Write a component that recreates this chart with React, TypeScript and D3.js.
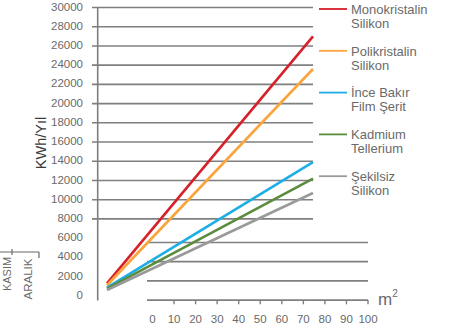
import React from "react";
import * as d3 from "d3";

const yTicks = [0, 2000, 4000, 6000, 8000, 10000, 12000, 14000, 16000, 18000, 20000, 22000, 24000, 26000, 28000, 30000];
const upperGrid = [8000, 10000, 12000, 14000, 16000, 18000, 20000, 22000, 24000, 26000, 28000, 30000];
const lowerGrid = [0, 2000, 4000, 6000];
const xTicks = [0, 10, 20, 30, 40, 50, 60, 70, 80, 90, 100];

const seriesNames = ["Monokristalin|Silikon", "Polikristalin|Silikon", "İnce Bakır|Film Şerit", "Kadmium|Tellerium", "Şekilsiz|Silikon"];
const seriesColors = ["#d6202a", "#f9a53b", "#1eaee6", "#5b8c3d", "#9a9a9a"];
const areaValues = [0, 75];
const monoValues = [1300, 27000];
const poliValues = [1100, 23600];
const inceValues = [850, 13900];
const kadmiumValues = [750, 12200];
const sekilsizValues = [600, 10700];
const seriesValues = [monoValues, poliValues, inceValues, kadmiumValues, sekilsizValues];

const FONT = "'Liberation Sans', Arial, sans-serif";

export default function App() {
  const y = d3.scaleLinear().domain([0, 30000]).range([295.8, 7.5]);
  const x = d3.scaleLinear().domain([0, 100]).range([152.5, 368]);
  const lineX = d3.scaleLinear().domain([0, 75]).range([107, 313]);
  const gridColor = "#7f7f7f";
  const textColor = "#6a6a6a";

  const line = d3
    .line<[number, number]>()
    .x((d) => lineX(d[0]))
    .y((d) => y(d[1]));

  return (
    <svg width={474} height={329} style={{ position: "absolute", left: 0, top: 0, background: "#fff" }} fontFamily={FONT}>
      {/* upper gridlines */}
      {upperGrid.map((v) => (
        <line key={"u" + v} x1={92} x2={313} y1={y(v)} y2={y(v)} stroke={gridColor} strokeWidth={1.6} />
      ))}
      {/* lower gridlines */}
      {lowerGrid.map((v) => (
        <line key={"l" + v} x1={147} x2={368} y1={y(v) + 4.3} y2={y(v) + 4.3} stroke={gridColor} strokeWidth={1.6} />
      ))}
      {/* x ticks */}
      {xTicks.filter((t) => t > 0).map((t) => (
        <line key={"xt" + t} x1={x(t)} x2={x(t)} y1={y(0) + 4.3} y2={y(0) + 8.5} stroke={gridColor} strokeWidth={1.4} />
      ))}
      {xTicks.map((t) => (
        <text key={"xl" + t} x={x(t)} y={320} textAnchor="middle" dominantBaseline="middle" fontSize={11.5} fill={textColor}>
          {t}
        </text>
      ))}
      {/* y axis */}
      <line x1={97.7} x2={97.7} y1={7} y2={300.5} stroke={gridColor} strokeWidth={1.6} />
      {yTicks.map((t) => (
        <text key={"yl" + t} x={83} y={y(t)} textAnchor="end" dominantBaseline="middle" fontSize={11.5} fill={textColor}>
          {t}
        </text>
      ))}
      <text transform={`translate(46,143) rotate(-90)`} textAnchor="middle" fontSize={14.5} fill="#3a3a3a">
        KWh/Yıl
      </text>
      {/* month bracket */}
      <line x1={0} x2={39} y1={252} y2={252} stroke={textColor} strokeWidth={1.2} />
      <line x1={12} x2={12} y1={249} y2={255} stroke={textColor} strokeWidth={1.2} />
      <line x1={39} x2={39} y1={252} y2={258} stroke={textColor} strokeWidth={1.2} />
      <text transform={`translate(10.5,274) rotate(-90)`} textAnchor="middle" fontSize={11} fill={textColor}>
        KASIM
      </text>
      <text transform={`translate(32,279) rotate(-90)`} textAnchor="middle" fontSize={11.5} fill={textColor}>
        ARALIK
      </text>
      {/* m2 */}
      <text x={378} y={305} fontSize={17} fill={textColor}>
        m
        <tspan dy={-8} fontSize={10}>
          2
        </tspan>
      </text>
      {/* data lines */}
      {seriesValues.map((vals, i) => (
        <path
          key={"s" + i}
          d={line(vals.map((v, j) => [areaValues[j], v]) as [number, number][]) || ""}
          fill="none"
          stroke={seriesColors[i]}
          strokeWidth={2.6}
        />
      ))}
      {/* legend */}
      {seriesNames.map((name, i) => {
        const ly = 9 + i * 41.8;
        const parts = name.split("|");
        return (
          <g key={"lg" + i}>
            <line x1={319} x2={347} y1={ly} y2={ly} stroke={seriesColors[i]} strokeWidth={1.8} />
            <text x={351} y={ly + 4.8} fontSize={13} fill={textColor}>
              {parts[0]}
            </text>
            <text x={351} y={ly + 18.8} fontSize={13} fill={textColor}>
              {parts[1]}
            </text>
          </g>
        );
      })}
    </svg>
  );
}
